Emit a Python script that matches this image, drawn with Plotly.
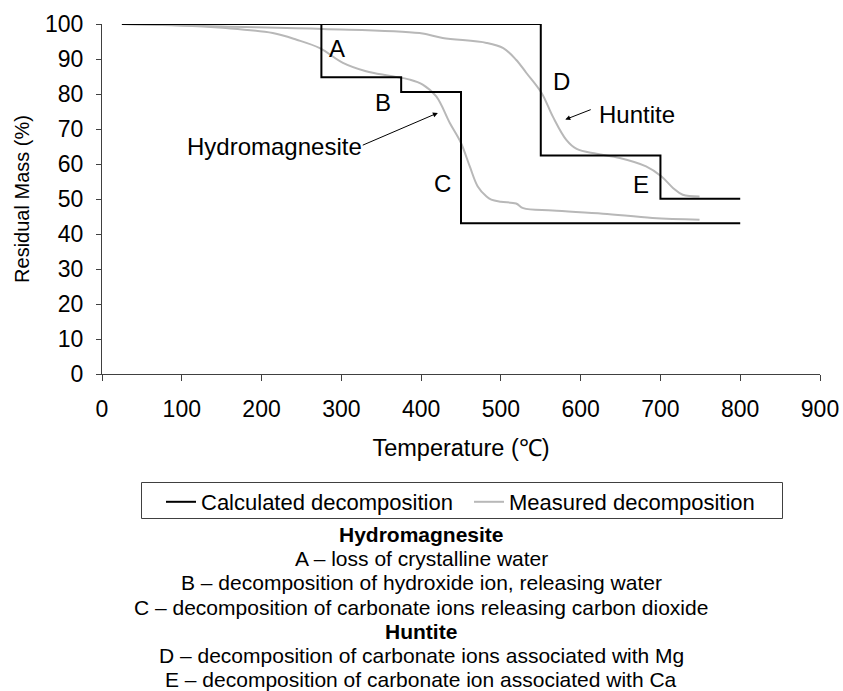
import plotly.graph_objects as go

# ---- data ----
hydro_calc_T = [25, 275, 375, 450, 800]
hydro_calc_m = [100, 84.8, 80.6, 43.1, 43.1]

hunt_calc_T = [25, 550, 700, 800]
hunt_calc_m = [100, 62.4, 50.1, 50.1]

hydro_meas_T = [25, 100, 151, 214, 244, 273, 302, 331, 360, 386, 402, 419, 436, 450,
                461, 471, 482, 488, 500, 519, 528, 565, 628, 690, 749]
hydro_meas_m = [100, 99.6, 98.9, 97.4, 95.5, 93.1, 88.9, 86.5, 85.2, 84.1, 82.7, 79.3, 71.7, 66.0,
                59.3, 53.6, 50.7, 49.8, 49.2, 48.7, 47.4, 46.7, 45.8, 44.6, 44.1]

hunt_meas_T = [25, 151, 277, 398, 427, 482, 503, 519, 532, 551, 565, 582, 595, 620,
               649, 682, 701, 716, 728, 749]
hunt_meas_m = [100, 99.3, 98.6, 97.4, 96.0, 94.6, 93.1, 89.8, 86.0, 80.3, 73.6, 66.9, 64.3, 62.9,
               61.7, 59.3, 56.5, 53.1, 51.2, 50.7]

x_ticks = [0, 100, 200, 300, 400, 500, 600, 700, 800, 900]
y_ticks = [0, 10, 20, 30, 40, 50, 60, 70, 80, 90, 100]

stage_labels = ["A", "B", "C", "D", "E"]
stage_T = [295, 352, 427, 576, 676]
stage_m = [92.9, 77.5, 54.4, 83.6, 54.1]

notes = [
    "<b>Hydromagnesite</b>",
    "A – loss of crystalline water",
    "B – decomposition of hydroxide ion, releasing water",
    "C – decomposition of carbonate ions releasing carbon dioxide",
    "<b>Huntite</b>",
    "D – decomposition of carbonate ions associated with Mg",
    "E – decomposition of carbonate ion associated with Ca",
]

FONT = "Liberation Sans, Arial, sans-serif"
BLACK = "#000000"
GREY = "#b8b8b8"

fig = go.Figure()
fig.add_trace(go.Scatter(x=hunt_meas_T, y=hunt_meas_m, mode="lines", line=dict(color=GREY, width=2),
                         name="Measured decomposition", legendgroup="meas", showlegend=False,
                         line_shape="spline", cliponaxis=False))
fig.add_trace(go.Scatter(x=hydro_meas_T, y=hydro_meas_m, mode="lines", line=dict(color=GREY, width=2),
                         name="Measured decomposition", legendgroup="meas", showlegend=True,
                         line_shape="spline", cliponaxis=False, legendrank=2))
fig.add_trace(go.Scatter(x=hydro_calc_T, y=hydro_calc_m, mode="lines", line=dict(color=BLACK, width=2, shape="hv"),
                         name="Calculated decomposition", legendgroup="calc", showlegend=True,
                         cliponaxis=False, legendrank=1))
fig.add_trace(go.Scatter(x=hunt_calc_T, y=hunt_calc_m, mode="lines", line=dict(color=BLACK, width=2, shape="hv"),
                         name="Calculated decomposition", legendgroup="calc", showlegend=False,
                         cliponaxis=False))

annotations = []
for lab, t, m in zip(stage_labels, stage_T, stage_m):
    annotations.append(dict(x=t, y=m, xref="x", yref="y", text=lab, showarrow=False,
                            font=dict(family=FONT, size=24, color=BLACK)))

annotations.append(dict(x=216, y=64.9, xref="x", yref="y", text="Hydromagnesite", showarrow=False,
                        font=dict(family=FONT, size=24, color=BLACK)))
annotations.append(dict(x=421, y=74.6, ax=325, ay=65.2, xref="x", yref="y", axref="x", ayref="y",
                        text="", showarrow=True, arrowhead=2, arrowsize=1, arrowwidth=1,
                        arrowcolor=BLACK, standoff=0, startstandoff=0))
annotations.append(dict(x=670, y=74.1, xref="x", yref="y", text="Huntite", showarrow=False,
                        font=dict(family=FONT, size=24, color=BLACK)))
annotations.append(dict(x=580.7, y=72.7, ax=614.5, ay=75.7, xref="x", yref="y", axref="x", ayref="y",
                        text="", showarrow=True, arrowhead=2, arrowsize=1, arrowwidth=1,
                        arrowcolor=BLACK, standoff=0, startstandoff=0))

FIG_W, FIG_H = 843, 691
# plot area in pixels
plot_top, plot_bottom, plot_left, plot_right = 24, 374, 102, 820
H = plot_bottom - plot_top
W = plot_right - plot_left


def px_x(p):
    return (p - plot_left) / W


def px_y(p):
    return (plot_bottom - p) / H


note_y_px = [534, 558, 582.5, 607, 631, 655, 679]
for txt, ypx in zip(notes, note_y_px):
    annotations.append(dict(x=px_x(421), y=px_y(ypx),
                            xref="paper", yref="paper", text=txt, showarrow=False,
                            xanchor="center", yanchor="middle",
                            font=dict(family=FONT, size=21, color=BLACK)))

shapes = [dict(type="rect", xref="paper", yref="paper",
               x0=px_x(141.5), x1=px_x(782.5), y0=px_y(482.5), y1=px_y(518.5),
               line=dict(color="#404040", width=1), fillcolor="rgba(0,0,0,0)", layer="above")]

fig.update_layout(
    width=FIG_W, height=FIG_H,
    margin=dict(l=plot_left, r=FIG_W - plot_right, t=plot_top, b=FIG_H - plot_bottom, pad=0),
    paper_bgcolor="white", plot_bgcolor="white",
    font=dict(family=FONT, color=BLACK),
    showlegend=True,
    legend=dict(orientation="h", x=px_x(161), xanchor="left",
                y=px_y(481), yanchor="top",
                borderwidth=0, bgcolor="rgba(0,0,0,0)", font=dict(family=FONT, size=22, color=BLACK),
                entrywidth=263, itemwidth=30, traceorder="normal"),
    annotations=annotations,
    shapes=shapes,
    xaxis=dict(range=[0, 900], tickvals=x_ticks, ticktext=[str(v) for v in x_ticks],
               showgrid=False, zeroline=False, showline=True, linecolor="#404040", linewidth=1,
               ticks="outside", ticklen=6, tickcolor="#404040", automargin=False,
               ticklabelstandoff=8,
               tickfont=dict(family=FONT, size=23, color=BLACK),
               title=dict(text="Temperature (℃)", font=dict(family=FONT, size=23.5, color=BLACK), standoff=18)),
    yaxis=dict(range=[0, 100], tickvals=y_ticks, ticktext=[str(v) for v in y_ticks],
               showgrid=False, zeroline=False, showline=True, linecolor="#404040", linewidth=1,
               ticks="outside", ticklen=5, tickcolor="#404040", automargin=False,
               ticklabelstandoff=8,
               tickfont=dict(family=FONT, size=23, color=BLACK),
               title=dict(text="Residual Mass (%)", font=dict(family=FONT, size=20, color=BLACK), standoff=10)),
)

fig.write_html("out.html", config={"displayModeBar": False},
               post_script="document.body.style.margin='0px';document.body.style.overflow='hidden';")
